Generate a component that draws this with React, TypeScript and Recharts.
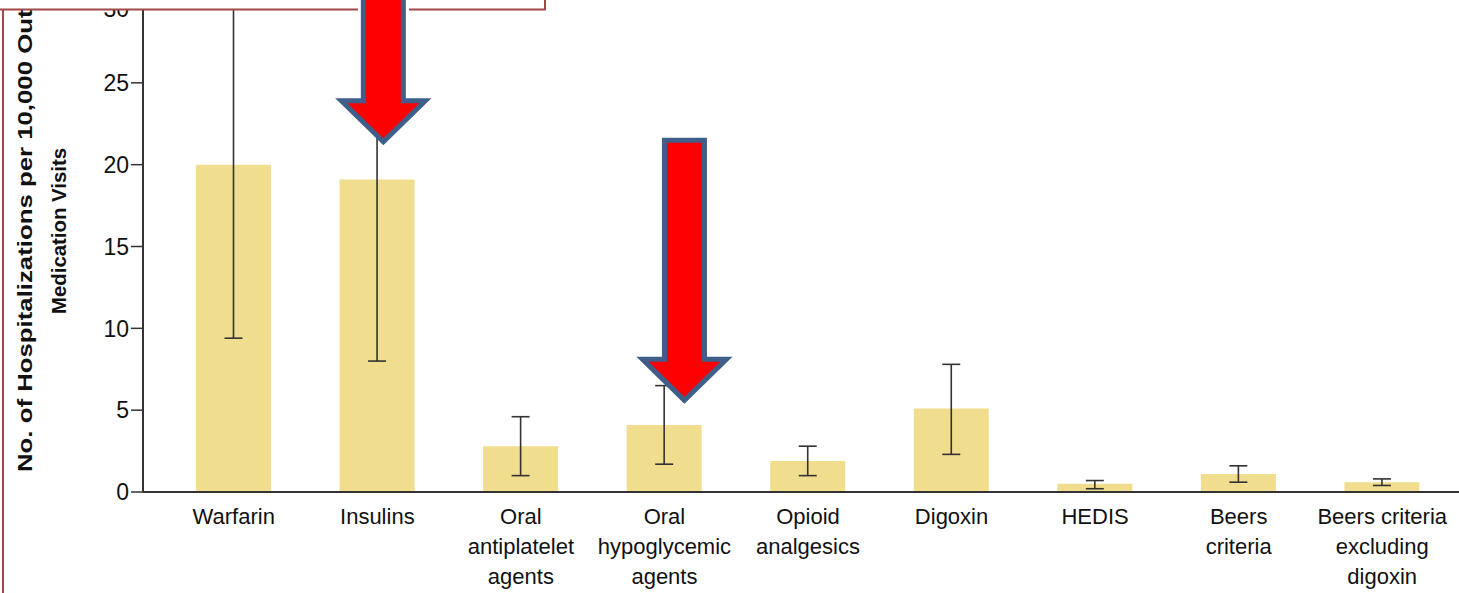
import React from "react";
import {
  BarChart,
  Bar,
  XAxis,
  YAxis,
  ErrorBar,
  ReferenceDot,
  Label,
} from "recharts";

const categories = [
  "Warfarin",
  "Insulins",
  "Oral antiplatelet agents",
  "Oral hypoglycemic agents",
  "Opioid analgesics",
  "Digoxin",
  "HEDIS",
  "Beers criteria",
  "Beers criteria excluding digoxin",
];
const tickLines: string[][] = [
  ["Warfarin"],
  ["Insulins"],
  ["Oral", "antiplatelet", "agents"],
  ["Oral", "hypoglycemic", "agents"],
  ["Opioid", "analgesics"],
  ["Digoxin"],
  ["HEDIS"],
  ["Beers", "criteria"],
  ["Beers criteria", "excluding", "digoxin"],
];
const rates = [20.0, 19.1, 2.8, 4.1, 1.9, 5.1, 0.5, 1.1, 0.6];
const lowCI = [9.4, 8.0, 1.0, 1.7, 1.0, 2.3, 0.2, 0.6, 0.4];
const highCI = [30.6, 30.2, 4.6, 6.5, 2.8, 7.8, 0.7, 1.6, 0.8];
const yTicks = [0, 5, 10, 15, 20, 25, 30];
const yLabelLines = [
  "No. of Hospitalizations per 10,000 Outpatient",
  "Medication Visits",
];
const arrowTargets = [
  { category: "Insulins", y: 21.4, dx: 6 },
  { category: "Oral hypoglycemic agents", y: 5.6, dx: 20 },
];

const data = categories.map((c, i) => ({
  name: c,
  value: rates[i],
  err: [rates[i] - lowCI[i], highCI[i] - rates[i]],
}));

const FONT = "'Liberation Sans', Arial, sans-serif";

const XTick = (props: any) => {
  const { x, y, index } = props;
  const lines = tickLines[index] || [];
  return (
    <g>
      {lines.map((l, k) => (
        <text
          key={k}
          x={x}
          y={y + 32 + k * 30}
          textAnchor="middle"
          fontFamily={FONT}
          fontSize={22}
          fill="#111"
        >
          {l}
        </text>
      ))}
    </g>
  );
};

const YTick = (props: any) => {
  const { x, y, payload } = props;
  return (
    <text
      x={x}
      y={y}
      dy="0.36em"
      textAnchor="end"
      fontFamily={FONT}
      fontSize={23}
      fill="#111"
    >
      {payload.value}
    </text>
  );
};

const Arrow = (props: any) => {
  const { cx, cy } = props;
  const dx = props.dx ?? 0;
  const x = cx + dx;
  const headH = 41;
  const headW = 42;
  const shaftW = 20;
  const top = cy - 260;
  const pts = [
    [x, cy],
    [x - headW, cy - headH],
    [x - shaftW, cy - headH],
    [x - shaftW, top],
    [x + shaftW, top],
    [x + shaftW, cy - headH],
    [x + headW, cy - headH],
  ]
    .map((p) => p.join(","))
    .join(" ");
  return (
    <polygon
      points={pts}
      fill="#FF0000"
      stroke="#3F5F8A"
      strokeWidth={5}
      strokeLinejoin="miter"
    />
  );
};

const YLabel = () => {
  return (
    <g fontFamily={FONT} fontWeight="bold" fill="#111">
      <text
        transform="translate(32, 472) rotate(-90)"
        textAnchor="start"
        fontSize={20}
        textLength={547}
        lengthAdjust="spacingAndGlyphs"
      >
        {yLabelLines[0]}
      </text>
      <text
        transform="translate(66, 231) rotate(-90)"
        textAnchor="middle"
        fontSize={21}
        textLength={166}
        lengthAdjust="spacingAndGlyphs"
      >
        {yLabelLines[1]}
      </text>
    </g>
  );
};

const FrameOverlay = () => (
  <svg
    width={1459}
    height={593}
    style={{ position: "absolute", left: 0, top: 0, pointerEvents: "none" }}
  >
    <rect x={0} y={0} width={355} height={10} fill="#fff" />
    <rect x={412} y={0} width={133} height={10} fill="#fff" />
    <path d="M0,9.5 L358,9.5" fill="none" stroke="#A0474A" strokeWidth={2} />
    <path d="M409,9.5 L545,9.5 L545,0" fill="none" stroke="#A0474A" strokeWidth={2} />
    <path d="M3,9.5 L3,593" fill="none" stroke="#A0474A" strokeWidth={2} />
  </svg>
);

export default function App() {
  return (
    <div style={{ position: "relative", width: 1459, height: 593, background: "#fff" }}>
      <style>{`body{margin:0;background:#fff;}`}</style>
      <BarChart
        width={1459}
        height={593}
        data={data}
        margin={{ top: 1, right: 0, bottom: 0, left: 0 }}
        barSize={75}
      >
        <XAxis
          dataKey="name"
          height={101}
          padding={{ left: 19, right: 5 }}
          tickLine={false}
          tickSize={0}
          tickMargin={0}
          axisLine={{ stroke: "#333", strokeWidth: 2 }}
          tick={<XTick />}
          interval={0}
        />
        <YAxis
          width={143}
          domain={[0, 30]}
          ticks={yTicks}
          allowDataOverflow
          tickLine={{ stroke: "#333", strokeWidth: 1.5 }}
          tickSize={12}
          tickMargin={2}
          axisLine={{ stroke: "#333", strokeWidth: 2 }}
          tick={<YTick />}
        >
          <Label content={<YLabel />} />
        </YAxis>
        <Bar dataKey="value" fill="#F0DD8E" isAnimationActive={false}>
          <ErrorBar
            dataKey="err"
            width={9}
            stroke="#333"
            strokeWidth={1.6}
            direction="y"
          />
        </Bar>
        {arrowTargets.map((a, i) => (
          <ReferenceDot
            key={i}
            x={a.category}
            y={a.y}
            ifOverflow="visible"
            shape={(p: any) => <Arrow {...p} dx={a.dx} />}
          />
        ))}
      </BarChart>
      <FrameOverlay />
    </div>
  );
}
